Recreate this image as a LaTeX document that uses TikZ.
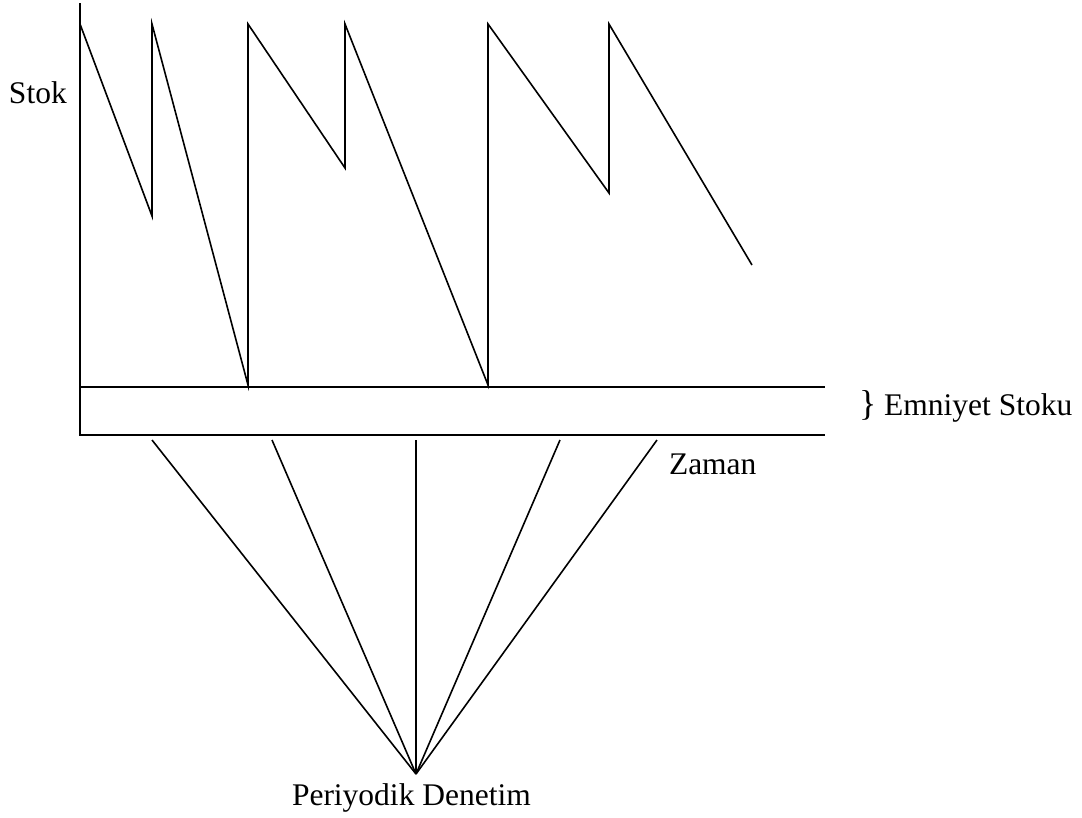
\documentclass[tikz,border=0pt]{standalone}
\usepackage{fontspec}
\setmainfont{Liberation Serif}
\begin{document}
\begin{tikzpicture}[x=1pt,y=-1pt,
  ln/.style={line width=1.6pt,black},
  lbl/.style={inner sep=0pt,outer sep=0pt,anchor=base west,font=\fontsize{31.5}{36}\selectfont}]
\useasboundingbox (0,0) rectangle (1082,817);
% axis
\coordinate (axtop) at (80,3);
\coordinate (axbot) at (80,435);
\coordinate (ssL) at (80,387);
\coordinate (ssR) at (825,387);
\coordinate (tR) at (825,435);
\draw[ln] (axtop) -- (axbot) -- (tR);
\draw[ln] (ssL) -- (ssR);
% sawtooth
\coordinate (p0) at (80,24);
\coordinate (q1) at (152,216);
\coordinate (p1) at (152,24);
\coordinate (q2) at (248,385);
\coordinate (p2) at (248,24);
\coordinate (q3) at (345,168);
\coordinate (p3) at (345,24);
\coordinate (q4) at (488,385);
\coordinate (p4) at (488,24);
\coordinate (q5) at (609,193);
\coordinate (p5) at (609,24);
\coordinate (q6) at (752,265);
\draw[ln] (p0) -- (q1) -- (p1) -- (q2) -- (p2) -- (q3) -- (p3) -- (q4) -- (p4) -- (q5) -- (p5) -- (q6);
% periodic review fan
\coordinate (apex) at (416,774);
\coordinate (f1) at (152,440);
\coordinate (f2) at (272,440);
\coordinate (f3) at (416,440);
\coordinate (f4) at (560,440);
\coordinate (f5) at (657,440);
\foreach \f in {f1,f2,f3,f4,f5} \draw[ln] (\f) -- (apex);
% labels
\node[lbl] (stok) at (9,103) {Stok};
\node[lbl] (emn) at (859,415) {{\fontsize{36}{36}\selectfont\}} Emniyet Stoku};
\node[lbl] (zaman) at (669,474) {Zaman};
\node[lbl] (per) at (292,805) {Periyodik Denetim};
\end{tikzpicture}
\end{document}
